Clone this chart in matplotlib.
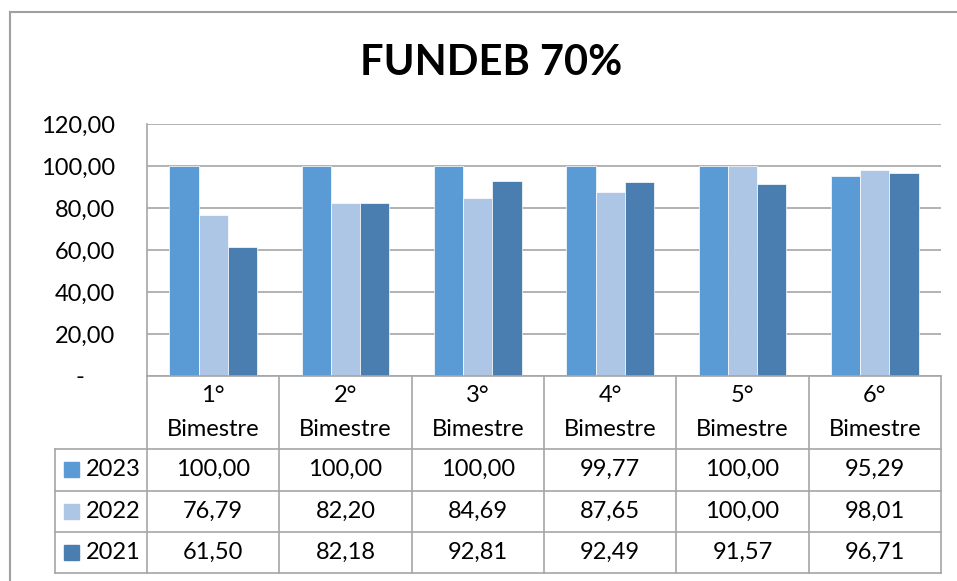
import matplotlib
matplotlib.use("Agg")
import matplotlib.pyplot as plt
from matplotlib.patches import Rectangle
import numpy as np

plt.rcParams['font.family'] = ['Lato', 'DejaVu Sans']

categories = ["1°\nBimestre", "2°\nBimestre", "3°\nBimestre", "4°\nBimestre", "5°\nBimestre", "6°\nBimestre"]
series_names = ["2023", "2022", "2021"]
v2023 = [100.00, 100.00, 100.00, 99.77, 100.00, 95.29]
v2022 = [76.79, 82.20, 84.69, 87.65, 100.00, 98.01]
v2021 = [61.50, 82.18, 92.81, 92.49, 91.57, 96.71]
yticks = [0, 20, 40, 60, 80, 100, 120]
ytick_labels = ["-     ", "20,00", "40,00", "60,00", "80,00", "100,00", "120,00"]
title = "FUNDEB 70%"

colors = ["#5B9BD5", "#ADC6E6", "#4A7EB0"]
grid_c = "#A6A6A6"
FS = 17

W, H = 957, 581
fig = plt.figure(figsize=(W / 100, H / 100), dpi=100)

# pixel layout
L, R, T, B = 147, 941, 124, 376
ax = fig.add_axes([L / W, 1 - B / H, (R - L) / W, (B - T) / H])

values = [v2023, v2022, v2021]
n = len(categories)
x = np.arange(n)
bw = 0.22
for i, (vals, c) in enumerate(zip(values, colors)):
    ax.bar(x + (i - 1) * bw, vals, width=bw, color=c, edgecolor="white", linewidth=0.5, zorder=3)

ax.set_xlim(-0.5, n - 0.5)
ax.set_ylim(0, 120)
ax.set_yticks(yticks)
ax.set_yticklabels(ytick_labels, fontsize=FS)
ax.set_xticks([])
ax.tick_params(axis='y', length=0, pad=23)
ax.yaxis.grid(True, color=grid_c, linewidth=1.2, zorder=0)
for s in ["top", "right", "bottom"]:
    ax.spines[s].set_visible(False)
ax.spines["left"].set_color(grid_c)
ax.spines["left"].set_linewidth(1.2)

# overlay for frame, title and data table
ov = fig.add_axes([0, 0, 1, 1], zorder=5)
ov.set_xlim(0, W)
ov.set_ylim(H, 0)
ov.axis("off")
ov.patch.set_alpha(0)

lw = 1.2
# outer chart frame
ov.plot([10, 10], [12, H], color="#A0A0A0", lw=1.5)
ov.plot([10, W], [12, 12], color="#A0A0A0", lw=1.5)

ov.text(491, 63, title, ha="center", va="center", fontsize=30, fontweight="bold")

# table geometry
colw = (R - L) / n
col_edges = [L + k * colw for k in range(n + 1)]
row_edges = [B, 449, 490.5, 532, 573]
legL = 55

ov.plot([L, R], [B, B], color=grid_c, lw=lw)
for xe in col_edges:
    ov.plot([xe, xe], [B, row_edges[-1]], color=grid_c, lw=lw)
ov.plot([legL, legL], [row_edges[1], row_edges[-1]], color=grid_c, lw=lw)
for ye in row_edges[1:]:
    ov.plot([legL, R], [ye, ye], color=grid_c, lw=lw)

for k, cat in enumerate(categories):
    cx = (col_edges[k] + col_edges[k + 1]) / 2
    first, second = cat.split("\n")
    ov.text(cx, 396, first, ha="center", va="center", fontsize=FS)
    ov.text(cx, 430, second, ha="center", va="center", fontsize=FS)

def fmt(v):
    return f"{v:.2f}".replace(".", ",")

for r, (name, vals, c) in enumerate(zip(series_names, values, colors)):
    cy = (row_edges[r + 1] + row_edges[r + 2]) / 2
    ov.add_patch(Rectangle((64, cy - 7.5), 15, 15, color=c))
    ov.text(86, cy, name, ha="left", va="center", fontsize=FS)
    for k, v in enumerate(vals):
        cx = (col_edges[k] + col_edges[k + 1]) / 2
        ov.text(cx, cy, fmt(v), ha="center", va="center", fontsize=FS)

fig.savefig("out.png", dpi=100)
